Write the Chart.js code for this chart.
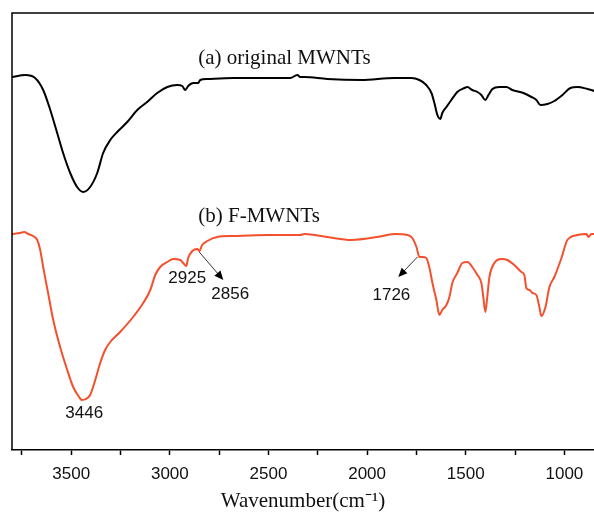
<!DOCTYPE html>
<html>
<head>
<meta charset="utf-8">
<script src="https://cdn.jsdelivr.net/npm/chart.js@4/dist/chart.umd.min.js"></script>
<style>
html,body{margin:0;padding:0;background:#fff;}
#wrap{width:594px;height:520px;}
</style>
</head>
<body>
<div id="wrap"><canvas id="c" width="594" height="520"></canvas></div>
<script>
// Wavenumber (cm-1) and relative transmittance (arbitrary units)
const wnA = [3800,3733,3683,3642,3606,3571,3541,3505,3470,3439,3404,3368,3338,3302,3267,3216,3165,3115,3064,3013,2962,2937,2922,2907,2881,2856,2846,2810,2678,2506,2389,2354,2339,2318,2202,2029,1862,1776,1735,1700,1674,1659,1644,1629,1619,1598,1573,1543,1507,1492,1467,1441,1421,1401,1385,1365,1330,1294,1264,1208,1167,1142,1122,1086,1051,1010,970,934,883,848];
const tA  = [373,375,372,360,340,317,297,277,263,258,263,277,297,310,318,328,340,348,357,363,365,364,360,364,367,367,370,371,372,372,372,375,373,373,371,370,372,372,370,365,357,347,335,331,337,343,350,358,362,363,360,358,355,350,355,361,363,363,360,357,353,350,345,346,349,355,362,363,361,359];

const wnB = [3800,3759,3738,3718,3693,3672,3657,3642,3617,3591,3556,3520,3490,3460,3446,3425,3404,3378,3353,3328,3302,3252,3186,3135,3099,3074,3049,3013,2983,2947,2932,2917,2907,2886,2861,2851,2836,2810,2760,2678,2506,2339,2318,2202,2080,1948,1862,1796,1771,1750,1735,1720,1700,1685,1669,1649,1634,1619,1598,1583,1568,1543,1517,1492,1467,1441,1421,1411,1401,1391,1380,1355,1319,1289,1254,1218,1203,1193,1177,1162,1142,1127,1117,1096,1076,1051,1015,985,934,888,878,863,848];
const tB  = [216,217,218,216,214,210,200,183,157,130,103,80,63,53,50,51,55,70,87,100,108,118,133,147,160,175,183,188,191,190,187,184,192,199,201,199,205,209,213,214,215,215,216,213,210,213,216,215,212,203,193,193,192,183,167,150,135,140,145,153,167,177,187,188,183,175,167,153,138,153,173,187,191,190,185,178,175,162,160,157,155,143,134,143,163,173,192,210,215,216,213,216,216];

const xMin = 850, xMax = 3800;
const majorStep = 500, minorStep = 250;

// text annotations [label, wavenumber, transmittance]
const peakLabels = [["3446",3434,37],["2925",2912,172],["2856",2694,156],["1726",1877,155]];
const curveLabels = [["(a) original MWNTs",2856,392],["(b) F-MWNTs",2856,234]];
// arrows [fromWn, fromT, toWn, toT]
const arrows = [[2851,198,2729,170],[1745,193,1842,173]];

const ptsA = wnA.map((w,i)=>({x:w,y:tA[i]}));
const ptsB = wnB.map((w,i)=>({x:w,y:tB[i]}));

const deco = {
  id:'deco',
  afterDatasetsDraw(chart){
    const {ctx, chartArea:a, scales:{x,y}} = chart;
    ctx.save();
    ctx.strokeStyle='#000'; ctx.lineWidth=1.5;
    ctx.beginPath();
    ctx.moveTo(a.left, a.bottom); ctx.lineTo(a.left, a.top); ctx.lineTo(a.right, a.top);
    ctx.stroke();
    ctx.fillStyle='#111';
    ctx.font='21px "Liberation Serif", "Times New Roman", serif';
    ctx.textAlign='left'; ctx.textBaseline='middle';
    curveLabels.forEach(([t,w,v])=>ctx.fillText(t, x.getPixelForValue(w), y.getPixelForValue(v)));
    ctx.font='17px "Liberation Sans", Arial, sans-serif';
    ctx.textAlign='center';
    peakLabels.forEach(([t,w,v])=>ctx.fillText(t, x.getPixelForValue(w), y.getPixelForValue(v)));
    ctx.strokeStyle='#333'; ctx.fillStyle='#000'; ctx.lineWidth=1;
    arrows.forEach(([w1,v1,w2,v2])=>{
      const x1=x.getPixelForValue(w1), y1=y.getPixelForValue(v1);
      const x2=x.getPixelForValue(w2), y2=y.getPixelForValue(v2);
      const ang=Math.atan2(y2-y1,x2-x1);
      ctx.beginPath(); ctx.moveTo(x1,y1); ctx.lineTo(x2-6*Math.cos(ang),y2-6*Math.sin(ang)); ctx.stroke();
      ctx.beginPath();
      ctx.moveTo(x2,y2);
      ctx.lineTo(x2-9*Math.cos(ang)+4*Math.sin(ang), y2-9*Math.sin(ang)-4*Math.cos(ang));
      ctx.lineTo(x2-9*Math.cos(ang)-4*Math.sin(ang), y2-9*Math.sin(ang)+4*Math.cos(ang));
      ctx.closePath(); ctx.fill();
    });
    ctx.restore();
  }
};

new Chart(document.getElementById('c'), {
  type:'line',
  data:{datasets:[
    {label:'(a) original MWNTs', data:ptsA, borderColor:'#000000', borderWidth:2, pointRadius:0, cubicInterpolationMode:'monotone', fill:false},
    {label:'(b) F-MWNTs', data:ptsB, borderColor:'#f5502d', borderWidth:2, pointRadius:0, cubicInterpolationMode:'monotone', fill:false}
  ]},
  options:{
    responsive:false, animation:false,
    layout:{padding:{left:12, top:13, right:0, bottom:0}},
    plugins:{legend:{display:false}, tooltip:{enabled:false}},
    scales:{
      x:{
        type:'linear', reverse:true, min:xMin, max:xMax,
        afterBuildTicks(s){
          const t=[];
          for(let v=Math.floor(xMax/minorStep)*minorStep; v>=xMin; v-=minorStep) t.push({value:v});
          s.ticks=t;
        },
        afterFit(s){ s.height = 70; },
        ticks:{autoSkip:false, maxRotation:0, minRotation:0, padding:9, color:'#111',
          font:{family:'"Liberation Sans", Arial, sans-serif', size:17},
          callback:(v)=> v % majorStep === 0 ? String(v) : ''},
        grid:{drawOnChartArea:false, drawTicks:true, tickLength:5, tickWidth:1.5, tickColor:'#000'},
        border:{display:true, color:'#000', width:1.5},
        title:{display:true, text:'Wavenumber(cm⁻¹)', color:'#111', padding:{top:4, bottom:6},
          font:{family:'"Liberation Serif", "Times New Roman", serif', size:21}}
      },
      y:{display:false, min:0, max:437}
    }
  },
  plugins:[deco]
});
</script>
</body>
</html>
